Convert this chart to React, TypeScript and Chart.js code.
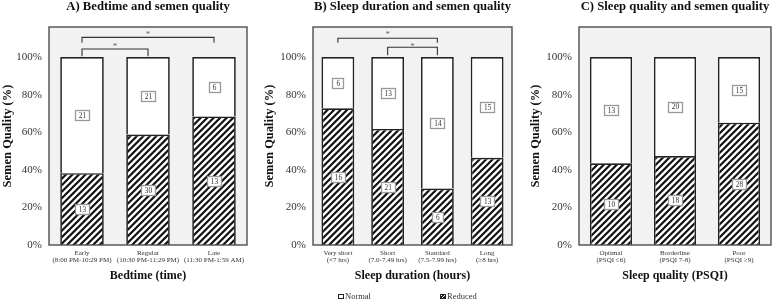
import React, { useEffect, useRef } from "react";
import { Chart, registerables } from "chart.js";

Chart.register(...registerables);

const SERIF = '"Liberation Serif", "Times New Roman", serif';

// ---- Data ----
const bedtimeCategories = [
  ["Early", "(8:00 PM-10:29 PM)"],
  ["Regular", "(10:30 PM-11:29 PM)"],
  ["Late", "(11:30 PM-1:59 AM)"],
];
const bedtimeNormal = [21, 21, 6];
const bedtimeReduced = [13, 30, 13];
const bedtimeBrackets = [
  { from: 0, to: 1, level: 104.3, drop: 100.5, star: 106.4 },
  { from: 0, to: 2, level: 110.5, drop: 107.6, star: 112.8 },
];

const durationCategories = [
  ["Very short", "(<7 hrs)"],
  ["Short", "(7.0-7.49 hrs)"],
  ["Standard", "(7.5-7.99 hrs)"],
  ["Long", "(≥8 hrs)"],
];
const durationNormal = [6, 13, 14, 15];
const durationReduced = [16, 21, 6, 13];
const durationBrackets = [
  { from: 0, to: 2, level: 110, drop: 107.6, star: 113 },
  { from: 1, to: 2, level: 105.2, drop: 101, star: 106.4 },
];

const qualityCategories = [
  ["Optimal", "(PSQI ≤6)"],
  ["Borderline", "(PSQI 7-8)"],
  ["Poor", "(PSQI ≥9)"],
];
const qualityNormal = [13, 20, 15];
const qualityReduced = [10, 18, 28];
const qualityBrackets: { from: number; to: number; level: number; drop: number; star: number }[] = [];

const yTickValues = [0, 20, 40, 60, 80, 100];
const legendLabels = ["Normal", "Reduced"];

type Bracket = { from: number; to: number; level: number; drop: number; star: number };
type PanelCfg = {
  title: string;
  xTitle: string;
  cats: string[][];
  normal: number[];
  reduced: number[];
  brackets: Bracket[];
  left: number;
  width: number;
  plotLeft: number;
  plotRight: number;
};

const panels: PanelCfg[] = [
  {
    title: "A) Bedtime and semen quality",
    xTitle: "Bedtime (time)",
    cats: bedtimeCategories,
    normal: bedtimeNormal,
    reduced: bedtimeReduced,
    brackets: bedtimeBrackets,
    left: 0,
    width: 258,
    plotLeft: 49,
    plotRight: 247,
  },
  {
    title: "B) Sleep duration and semen quality",
    xTitle: "Sleep duration (hours)",
    cats: durationCategories,
    normal: durationNormal,
    reduced: durationReduced,
    brackets: durationBrackets,
    left: 262,
    width: 256,
    plotLeft: 313,
    plotRight: 512,
  },
  {
    title: "C) Sleep quality and semen quality",
    xTitle: "Sleep quality (PSQI)",
    cats: qualityCategories,
    normal: qualityNormal,
    reduced: qualityReduced,
    brackets: qualityBrackets,
    left: 528,
    width: 250,
    plotLeft: 579,
    plotRight: 771,
  },
];

function makeHatch(ctx: CanvasRenderingContext2D): CanvasPattern | string {
  const s = 6.5;
  const n = 13;
  const c = document.createElement("canvas");
  c.width = n;
  c.height = n;
  const g = c.getContext("2d")!;
  g.fillStyle = "#ffffff";
  g.fillRect(0, 0, n, n);
  g.strokeStyle = "#111111";
  g.lineWidth = 2.2;
  g.beginPath();
  for (let k = -1; k <= 5; k++) {
    const cst = k * s;
    g.moveTo(cst + 2, -2);
    g.lineTo(cst - n - 2, n + 2);
  }
  g.stroke();
  return ctx.createPattern(c, "repeat") || "#555";
}

function Panel({ cfg }: { cfg: PanelCfg }) {
  const ref = useRef<HTMLCanvasElement>(null);
  useEffect(() => {
    const canvas = ref.current!;
    const ctx = canvas.getContext("2d")!;
    const hatch = makeHatch(ctx);
    const totals = cfg.normal.map((n, i) => n + cfg.reduced[i]);
    const counts = [cfg.reduced, cfg.normal];

    const panelPlugin = {
      id: "panelDeco",
      beforeDraw(chart: any) {
        const { ctx: c, chartArea: a } = chart;
        c.save();
        c.fillStyle = "#f2f2f2";
        c.fillRect(a.left, a.top, a.right - a.left, a.bottom - a.top);
        c.restore();
      },
      afterDatasetsDraw(chart: any) {
        const { ctx: c, chartArea: a, scales } = chart;
        c.save();
        // frame
        c.strokeStyle = "#4d4d4d";
        c.lineWidth = 1.4;
        c.strokeRect(a.left, a.top, a.right - a.left, a.bottom - a.top);
        // count labels
        c.font = `7.3px ${SERIF}`;
        c.textAlign = "center";
        c.textBaseline = "middle";
        chart.data.datasets.forEach((_ds: any, di: number) => {
          const meta = chart.getDatasetMeta(di);
          meta.data.forEach((el: any, j: number) => {
            const txt = String(counts[di][j]);
            const cy = (el.y + el.base) / 2;
            const tw = c.measureText(txt).width;
            const bw = Math.round(tw + 7);
            const bh = 10;
            const bx = Math.round(el.x - bw / 2);
            const by = Math.round(cy - bh / 2);
            c.fillStyle = "#ffffff";
            c.fillRect(bx, by, bw, bh);
            c.strokeStyle = "#999999";
            c.lineWidth = 1.3;
            c.strokeRect(bx + 0.5, by + 0.5, bw, bh);
            c.fillStyle = "#333";
            c.fillText(txt, el.x + 0.5, cy + 1);
          });
        });
        // significance brackets
        const xs = scales.x;
        const ys = scales.y;
        cfg.brackets.forEach((b) => {
          const x1 = xs.getPixelForValue(b.from);
          const x2 = xs.getPixelForValue(b.to);
          const yl = ys.getPixelForValue(b.level);
          const yd = ys.getPixelForValue(b.drop);
          c.strokeStyle = "#333";
          c.lineWidth = 1.1;
          c.beginPath();
          c.moveTo(x1, yd);
          c.lineTo(x1, yl);
          c.lineTo(x2, yl);
          c.lineTo(x2, yd);
          c.stroke();
          c.fillStyle = "#666";
          c.font = `9px ${SERIF}`;
          c.textAlign = "center";
          c.textBaseline = "middle";
          c.fillText("*", (x1 + x2) / 2, ys.getPixelForValue(b.star) + 2);
        });
        c.restore();
      },
      afterDraw(chart: any) {
        const { ctx: c, chartArea: a } = chart;
        c.save();
        c.font = `bold 12.7px ${SERIF}`;
        c.fillStyle = "#111";
        c.textAlign = "center";
        c.textBaseline = "middle";
        c.fillText(cfg.title, (a.left + a.right) / 2, 6.5);
        c.restore();
      },
    };

    const chart = new Chart(ctx, {
      type: "bar",
      data: {
        labels: cfg.cats,
        datasets: [
          {
            label: legendLabels[1],
            data: cfg.reduced.map((r, i) => (r / totals[i]) * 100),
            backgroundColor: hatch as any,
            borderColor: "#222222",
            borderWidth: 1.7,
            barPercentage: 0.66,
            categoryPercentage: 1,
          },
          {
            label: legendLabels[0],
            data: cfg.normal.map((n, i) => (n / totals[i]) * 100),
            backgroundColor: "#ffffff",
            borderColor: "#222222",
            borderWidth: 1.7,
            barPercentage: 0.66,
            categoryPercentage: 1,
          },
        ],
      },
      options: {
        responsive: false,
        maintainAspectRatio: false,
        animation: false,
        devicePixelRatio: 1,
        layout: {
          padding: { top: 27, right: cfg.left + cfg.width - cfg.plotRight, bottom: 0, left: 0 },
        },
        plugins: { legend: { display: false }, tooltip: { enabled: false }, title: { display: false } },
        scales: {
          x: {
            stacked: true,
            grid: { display: false, drawTicks: false },
            border: { display: false },
            ticks: {
              font: { family: SERIF, size: 7, lineHeight: 1.05 },
              color: "#333",
              padding: 4.3,
              maxRotation: 0,
              minRotation: 0,
              autoSkip: false,
            },
            title: {
              display: true,
              text: cfg.xTitle,
              font: { family: SERIF, size: 12, weight: "bold" },
              color: "#111",
              padding: { top: 0, bottom: 17.8 },
            },
            afterFit: (s: any) => {
              s.height = 56;
            },
          },
          y: {
            stacked: true,
            min: 0,
            max: 116,
            grid: { display: false, drawTicks: false },
            border: { display: false },
            afterBuildTicks: (s: any) => {
              s.ticks = yTickValues.map((v) => ({ value: v }));
            },
            ticks: {
              callback: (v: any) => v + "%",
              font: { family: SERIF, size: 11 },
              color: "#333",
              padding: 7,
            },
            title: {
              display: true,
              text: "Semen Quality (%)",
              font: { family: SERIF, size: 12.5, weight: "bold" },
              color: "#111",
              padding: { top: 0, bottom: 0 },
            },
            afterFit: (s: any) => {
              s.width = cfg.plotLeft - cfg.left;
            },
          },
        },
      } as any,
      plugins: [panelPlugin],
    });
    return () => chart.destroy();
  }, [cfg]);
  return (
    <canvas
      ref={ref}
      width={cfg.width}
      height={301}
      style={{ position: "absolute", left: cfg.left, top: 0, width: cfg.width, height: 301 }}
    />
  );
}

export default function App() {
  return (
    <div style={{ position: "absolute", left: 0, top: 0, width: 778, height: 301, background: "#fff", overflow: "hidden" }}>
      {panels.map((p, i) => (
        <Panel key={i} cfg={p} />
      ))}
      <div
        style={{
          position: "absolute",
          left: 338,
          top: 291,
          font: `8.5px ${SERIF}`,
          lineHeight: "10px",
          color: "#333",
          display: "flex",
          alignItems: "center",
        }}
      >
        <span style={{ display: "inline-block", width: 4, height: 3, border: "1.3px solid #222", background: "#fff", marginRight: 1 }} />
        {legendLabels[0]}
      </div>
      <div
        style={{
          position: "absolute",
          left: 440,
          top: 291,
          font: `8.5px ${SERIF}`,
          lineHeight: "10px",
          color: "#333",
          display: "flex",
          alignItems: "center",
        }}
      >
        <span
          style={{
            display: "inline-block",
            width: 4,
            height: 3,
            border: "1.3px solid #222",
            background: "repeating-linear-gradient(-45deg, #222 0 1.5px, #fff 1.5px 2.5px)",
            marginRight: 1,
          }}
        />
        {legendLabels[1]}
      </div>
    </div>
  );
}
